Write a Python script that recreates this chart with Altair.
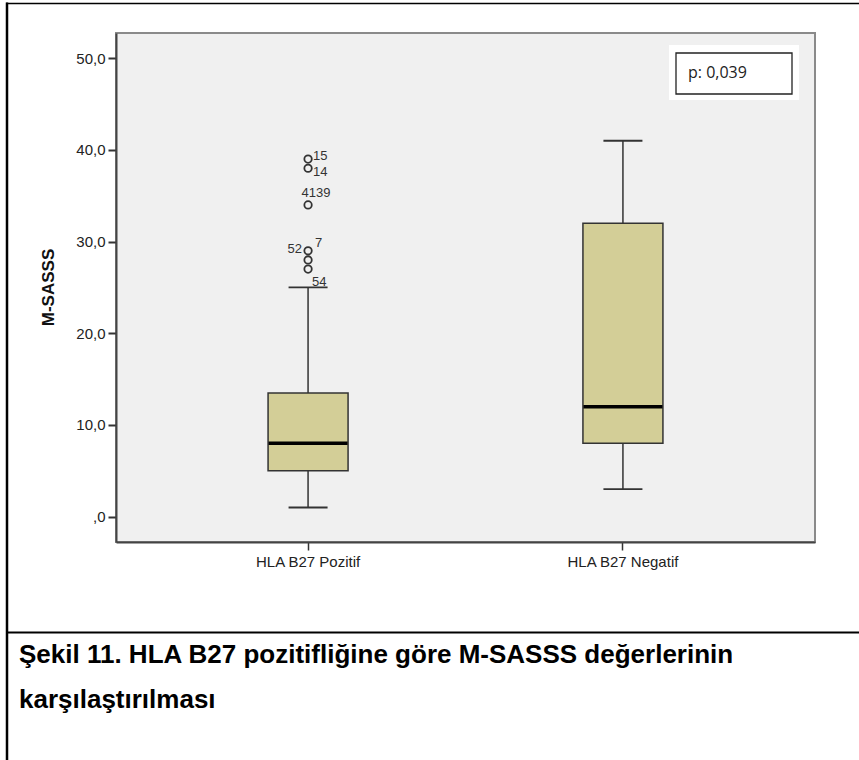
import altair as alt
import pandas as pd

# ---------------- data ----------------
groups = ["HLA B27 Pozitif", "HLA B27 Negatif"]
whisker_low = [1, 3]
q1 = [5, 8]
median = [8, 12]
q3 = [13.5, 32]
whisker_high = [25, 41]

outlier_group = ["HLA B27 Pozitif"] * 6
outlier_values = [39, 38, 34, 29, 28, 27]

label_texts = ["15", "14", "4139", "52", "7", "54"]
label_values = [39, 38, 34, 29, 29, 27]

y_tick_values = [0, 10, 20, 30, 40, 50]
y_tick_labels = [",0", "10,0", "20,0", "30,0", "40,0", "50,0"]

p_text = "p: 0,039"
y_title = "M-SASSS"
caption_lines = ["Şekil 11. HLA B27 pozitifliğine göre M-SASSS değerlerinin",
                 "karşılaştırılması"]

# ---------------- tables ----------------
box_df = pd.DataFrame({"group": groups, "lo": whisker_low, "q1": q1,
                       "med": median, "q3": q3, "hi": whisker_high})
out_df = pd.DataFrame({"group": outlier_group, "v": outlier_values})
lab_df = pd.DataFrame({"group": ["HLA B27 Pozitif"] * len(label_texts),
                       "v": label_values, "t": label_texts})
dummy = pd.DataFrame({"a": [0]})

label_expr = " : ".join(
    f"datum.value == {v} ? '{t}'" for v, t in zip(y_tick_values, y_tick_labels)
) + " : ''"

FONT = "Liberation Sans"
DARK = "#333333"

xenc = alt.X("group:N", sort=groups,
             scale=alt.Scale(domain=groups, paddingInner=0, paddingOuter=0.11),
             axis=alt.Axis(title=None, labelAngle=0, tickSize=8, tickWidth=1.5,
                           tickColor=DARK, domainColor="#444444", domainWidth=2,
                           labelPadding=4, labelFontSize=15, labelFont=FONT,
                           labelColor="#222222"))
yscale = alt.Scale(domain=[-2.76, 52.75], nice=False, zero=False)
yaxis = alt.Axis(title=None, values=y_tick_values, labelExpr=label_expr,
                 grid=False, domainColor="#444444", domainWidth=2,
                 tickColor=DARK, tickWidth=2, tickSize=8, labelPadding=3,
                 labelFontSize=15, labelFont=FONT, labelColor="#222222")

base = alt.Chart(box_df)

whisk = base.mark_rule(color=DARK, strokeWidth=1.5).encode(
    x=xenc, y=alt.Y("lo:Q", scale=yscale, axis=yaxis), y2="hi:Q")

caps_lo = base.mark_tick(color=DARK, thickness=1.8, size=39, opacity=1).encode(
    x=xenc, y=alt.Y("lo:Q", scale=yscale))
caps_hi = base.mark_tick(color=DARK, thickness=1.8, size=39, opacity=1).encode(
    x=xenc, y=alt.Y("hi:Q", scale=yscale))

boxes = base.mark_bar(size=80, fill="#d3ce97", stroke=DARK, strokeWidth=1.5).encode(
    x=xenc, y=alt.Y("q1:Q", scale=yscale), y2="q3:Q")

meds = base.mark_tick(color="black", thickness=3.5, size=79, opacity=1).encode(
    x=xenc, y=alt.Y("med:Q", scale=yscale))

outs = alt.Chart(out_df).mark_point(shape="circle", size=55, filled=False,
                                    color=DARK, strokeWidth=1.8, opacity=1).encode(
    x=xenc, y=alt.Y("v:Q", scale=yscale))

def lab(texts, dx, dy, align):
    return alt.Chart(lab_df).transform_filter(
        alt.FieldOneOfPredicate(field="t", oneOf=texts)
    ).mark_text(font=FONT, fontSize=13, color=DARK, dx=dx, dy=dy,
                align=align, baseline="middle").encode(
        x=xenc, y=alt.Y("v:Q", scale=yscale), text="t:N")

labs = [
    lab(["15"], 5, -3, "left"),
    lab(["14"], 5, 4, "left"),
    lab(["4139"], 8, -12, "center"),
    lab(["52"], -6, -2, "right"),
    lab(["7"], 7, -8, "left"),
    lab(["54"], 4, 13, "left"),
]

d = alt.Chart(dummy)
pbox_outer = d.mark_rect(fill="white").encode(
    x=alt.value(553), x2=alt.value(683), y=alt.value(12), y2=alt.value(67))
pbox_inner = d.mark_rect(fill="white", stroke="#222222", strokeWidth=1.3).encode(
    x=alt.value(560), x2=alt.value(676), y=alt.value(20), y2=alt.value(61))
ptxt = d.mark_text(text=p_text, font="Open Sans", fontSize=16, color="#222222",
                   align="left", baseline="alphabetic").encode(
    x=alt.value(572), y=alt.value(45))

ytitle = d.mark_text(text=y_title, font=FONT, fontSize=17, fontWeight="bold",
                     angle=270, align="center", baseline="middle",
                     color="#111111").encode(x=alt.value(-67), y=alt.value(254.5))

border_left = d.mark_rule(color="black", strokeWidth=2.5).encode(
    x=alt.value(-109), y=alt.value(-30.5), y2=alt.value(727))
border_top = d.mark_rule(color="black", strokeWidth=1.5).encode(
    x=alt.value(-110), x2=alt.value(743), y=alt.value(-29.5))
sep = d.mark_rule(color="black", strokeWidth=2).encode(
    x=alt.value(-110), x2=alt.value(743), y=alt.value(599.5))

cap1 = d.mark_text(text=caption_lines[0], font=FONT, fontSize=26,
                   fontWeight="bold", color="black", align="left",
                   baseline="alphabetic").encode(x=alt.value(-97), y=alt.value(630))
cap2 = d.mark_text(text=caption_lines[1], font=FONT, fontSize=26,
                   fontWeight="bold", color="black", align="left",
                   baseline="alphabetic").encode(x=alt.value(-97), y=alt.value(675))

chart = alt.layer(
    whisk, caps_lo, caps_hi, boxes, meds, outs, *labs,
    pbox_outer, pbox_inner, ptxt, ytitle,
    border_left, border_top, sep, cap1, cap2
).properties(
    width=699, height=509,
    autosize=alt.AutoSizeParams(type="none"),
    padding={"left": 116, "top": 33, "right": 44, "bottom": 218},
    background="white",
).configure_view(
    fill="#f0f0f0", stroke="#8a8a8a", strokeWidth=2
)

chart.save("out.html", embed_options={"renderer": "svg", "actions": False})
